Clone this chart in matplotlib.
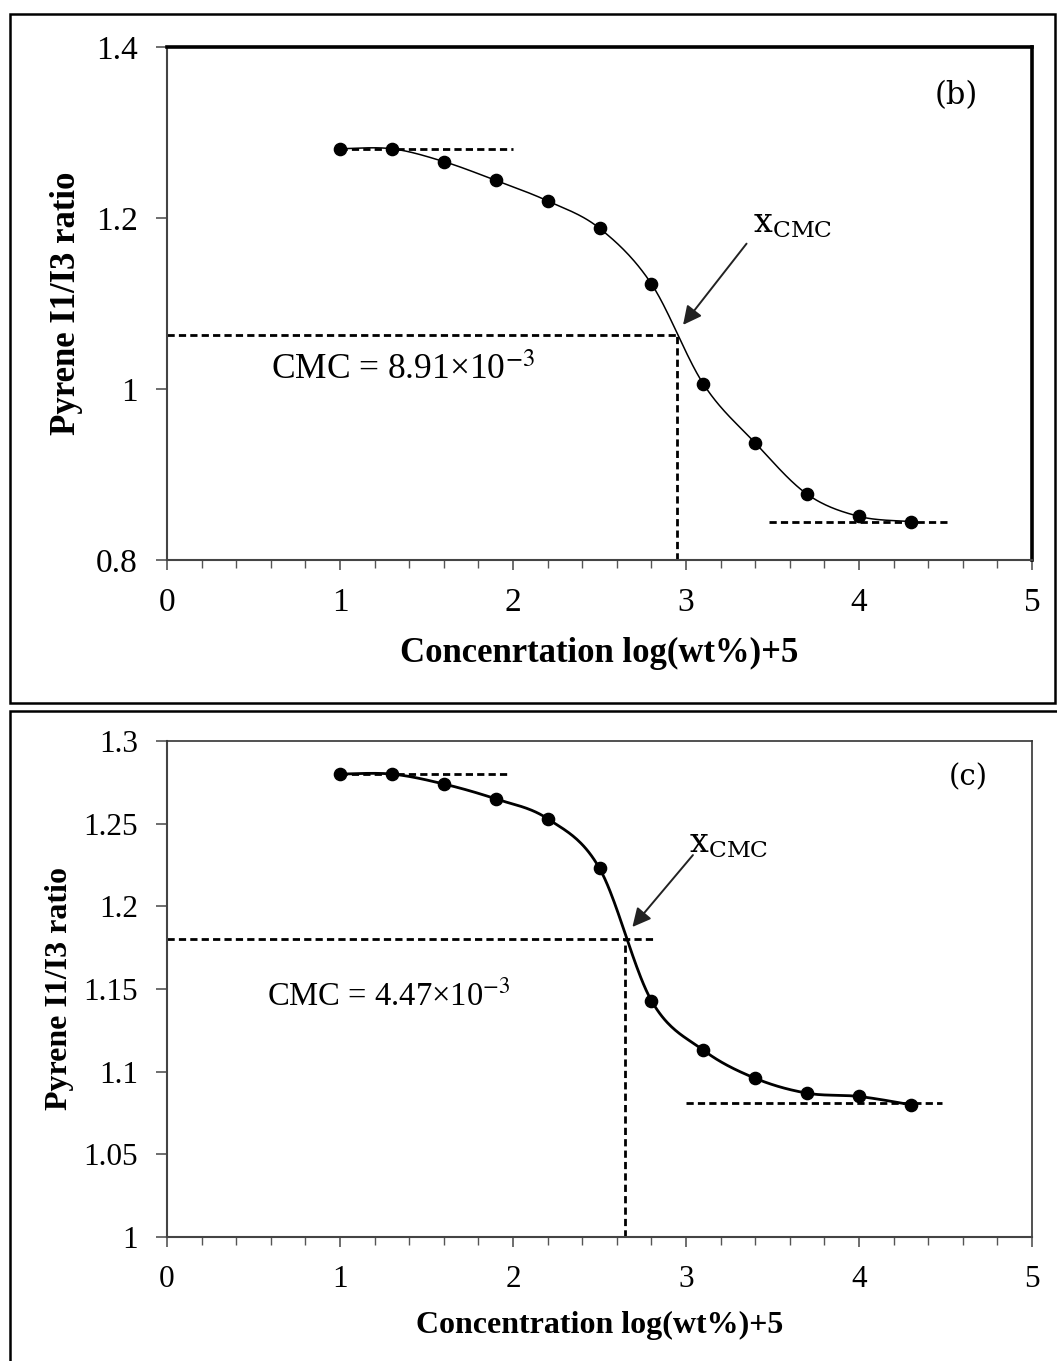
import numpy as np
import matplotlib
matplotlib.use("Agg")
import matplotlib.pyplot as plt
from matplotlib.patches import Rectangle
from matplotlib.ticker import MultipleLocator, FixedLocator

# ---------------- data ----------------
x_conc = [1.0, 1.3, 1.6, 1.9, 2.2, 2.5, 2.8, 3.1, 3.4, 3.7, 4.0, 4.3]
ratio_b = [1.281, 1.281, 1.266, 1.244, 1.220, 1.188, 1.123, 1.006, 0.937, 0.877, 0.851, 0.845]
ratio_c = [1.280, 1.280, 1.274, 1.265, 1.253, 1.223, 1.143, 1.113, 1.096, 1.087, 1.085, 1.080]

cmc_x_b, cmc_y_b = 2.95, 1.063
cmc_x_c, cmc_y_c = 2.65, 1.180
cmc_hline_end_b = 2.96
cmc_hline_end_c = 2.81
plateau_hi_b = (1.0, 2.0, 1.281)
plateau_lo_b = (3.48, 4.51, 0.844)
plateau_hi_c = (1.0, 1.97, 1.280)
plateau_lo_c = (3.0, 4.48, 1.081)

cmc_text_b = "CMC = 8.91×10$^{-3}$"
cmc_text_c = "CMC = 4.47×10$^{-3}$"
xlabel_b = "Concenrtation log(wt%)+5"
xlabel_c = "Concentration log(wt%)+5"
ylabel = "Pyrene I1/I3 ratio"
yticks_b = [0.8, 1.0, 1.2, 1.4]
yticklabels_b = ["0.8", "1", "1.2", "1.4"]
yticks_c = [1.0, 1.05, 1.1, 1.15, 1.2, 1.25, 1.3]
yticklabels_c = ["1", "1.05", "1.1", "1.15", "1.2", "1.25", "1.3"]
xticks = [0, 1, 2, 3, 4, 5]


def smooth(xs, ys, n=40):
    """Catmull-Rom style smoothing (like a spreadsheet 'smoothed line')."""
    P = np.column_stack([xs, ys]).astype(float)
    P = np.vstack([P[0], P, P[-1]])
    out = []
    t = np.linspace(0, 1, n)[:, None]
    for i in range(1, len(P) - 2):
        p0, p1, p2, p3 = P[i - 1], P[i], P[i + 1], P[i + 2]
        c1 = p1 + (p2 - p0) / 6.0
        c2 = p2 - (p3 - p1) / 6.0
        seg = ((1 - t) ** 3) * p1 + 3 * ((1 - t) ** 2) * t * c1 + 3 * (1 - t) * t ** 2 * c2 + t ** 3 * p2
        out.append(seg if i == 1 else seg[1:])
    out = np.vstack(out)
    return out[:, 0], out[:, 1]


W, H = 1057, 1361
fig = plt.figure(figsize=(W / 100, H / 100), dpi=100)
fig.patch.set_facecolor("white")

serif = ["Liberation Serif", "DejaVu Serif"]
plt.rcParams["font.family"] = serif

# outer panel frames
fig.patches.append(Rectangle((10 / W, 1 - 703 / H), (1055 - 10) / W, (703 - 14) / H,
                             transform=fig.transFigure, fill=False, lw=1.8, ec="black"))
fig.patches.append(Rectangle((10 / W, -0.01), (1070 - 10) / W, (1 - 711 / H) + 0.01,
                             transform=fig.transFigure, fill=False, lw=1.8, ec="black",
                             clip_on=False))

dash = (0, (2.6, 1.5))


def make_axes(rect, ylim, yticks, ytl, ydata, cmc_x, cmc_y, hline_end, hi, lo, cmc_text,
              cmc_pos, xcmc_pos, arrow_tail, arrow_head, tag, tag_pos, xlabel,
              xlab_y, ylab_x, thick_frame, curve_lw, tick_fs, lab_fs, cmc_fs, tag_fs):
    ax = fig.add_axes(rect)
    ax.set_xlim(0, 5)
    ax.set_ylim(*ylim)
    ax.xaxis.set_major_locator(FixedLocator(xticks))
    ax.xaxis.set_minor_locator(MultipleLocator(0.2))
    ax.set_yticks(yticks)
    ax.set_yticklabels(ytl)
    ax.set_xticklabels([str(v) for v in xticks])
    ax.tick_params(axis="both", which="major", direction="out", length=8, width=1.2,
                   color="#555555", labelsize=tick_fs, pad=13)
    ax.tick_params(axis="x", which="minor", direction="out", length=6, width=1.0,
                   color="#555555")
    ax.tick_params(axis="x", which="major", length=7, pad=13)
    for s in ["left", "bottom"]:
        ax.spines[s].set_color("#444444")
        ax.spines[s].set_linewidth(1.5)
    for s in ["top", "right"]:
        if thick_frame:
            ax.spines[s].set_color("black")
            ax.spines[s].set_linewidth(2.6)
        else:
            ax.spines[s].set_color("#333333")
            ax.spines[s].set_linewidth(1.2)

    sx, sy = smooth(x_conc, ydata)
    ax.plot(sx, sy, color="black", lw=curve_lw, zorder=3)
    ax.plot(x_conc, ydata, "o", color="black", ms=8.8, zorder=4)

    # CMC construction lines
    ax.plot([0, hline_end], [cmc_y, cmc_y], color="black", lw=2.0, ls=dash, zorder=2)
    ax.plot([cmc_x, cmc_x], [ylim[0], cmc_y], color="black", lw=2.0, ls=dash, zorder=2)
    ax.plot([hi[0], hi[1]], [hi[2], hi[2]], color="black", lw=2.0, ls=dash, zorder=2)
    ax.plot([lo[0], lo[1]], [lo[2], lo[2]], color="black", lw=2.0, ls=dash, zorder=2)

    ax.text(cmc_pos[0], cmc_pos[1], cmc_text, fontsize=cmc_fs, va="center", ha="left",
            math_fontfamily="stix")
    ax.text(xcmc_pos[0], xcmc_pos[1], r"$\mathrm{x}_{\mathrm{CMC}}$", fontsize=24,
            va="center", ha="left", math_fontfamily="dejavuserif")
    ax.annotate("", xy=arrow_head, xytext=arrow_tail,
                arrowprops=dict(arrowstyle="-|>", lw=1.4, color="#222222",
                                mutation_scale=28, shrinkA=0, shrinkB=0))
    ax.text(tag_pos[0], tag_pos[1], tag, fontsize=tag_fs, ha="center", va="center",
            family=["DejaVu Serif"])

    ax.set_xlabel(xlabel, fontsize=lab_fs, fontweight="bold")
    ax.set_ylabel(ylabel, fontsize=lab_fs, fontweight="bold")
    ax.xaxis.set_label_coords(0.5, xlab_y)
    ax.yaxis.set_label_coords(ylab_x, 0.5)
    return ax


# panel (b)
make_axes([167 / W, 1 - 560 / H, 865 / W, 513 / H], (0.8, 1.4), yticks_b, yticklabels_b,
          ratio_b, cmc_x_b, cmc_y_b, cmc_hline_end_b, plateau_hi_b, plateau_lo_b, cmc_text_b,
          (0.60, 1.022), (3.39, 1.192), (3.35, 1.170), (2.983, 1.075), "(b)", (4.56, 1.343),
          xlabel_b, -0.150, -0.097, True, 1.1, 24, 25, 25.5, 22)

# panel (c)
make_axes([167 / W, 1 - 1237 / H, 865 / W, 496 / H], (1.0, 1.3), yticks_c, yticklabels_c,
          ratio_c, cmc_x_c, cmc_y_c, cmc_hline_end_c, plateau_hi_c, plateau_lo_c, cmc_text_c,
          (0.58, 1.146), (3.02, 1.237), (3.04, 1.231), (2.69, 1.1875), "(c)", (4.63, 1.278),
          xlabel_c, -0.150, -0.108, False, 2.0, 22.5, 23, 23.5, 21)

fig.savefig("out.png", dpi=100, facecolor="white")
